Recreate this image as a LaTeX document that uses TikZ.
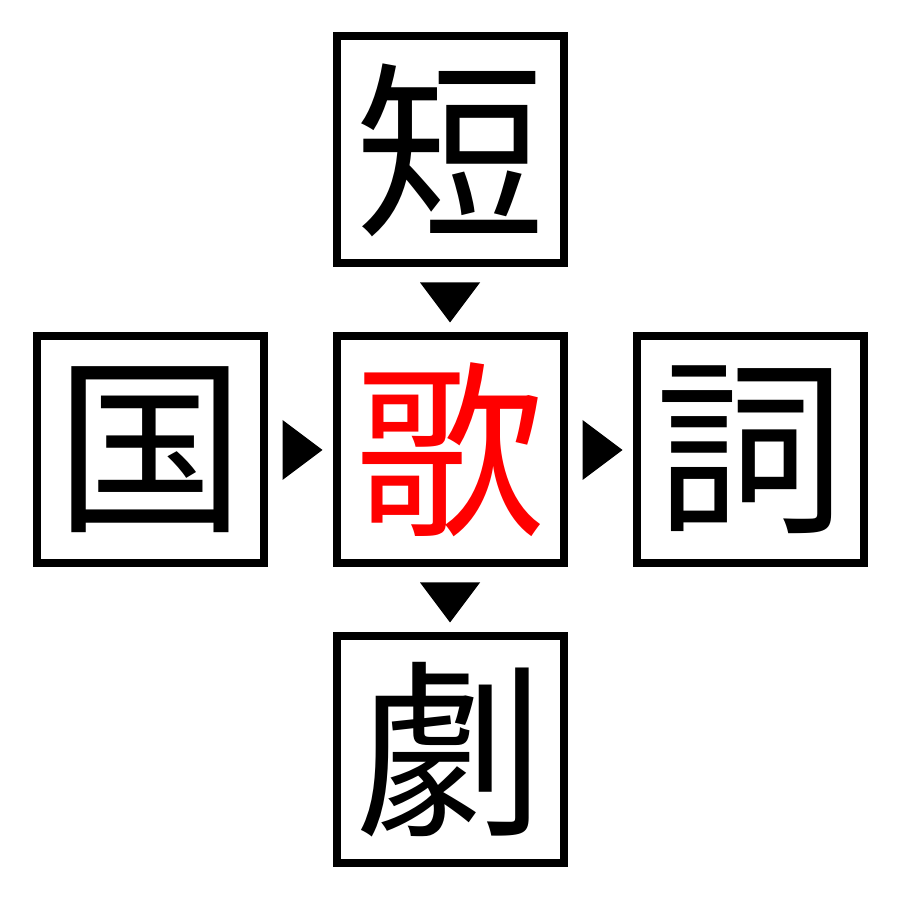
\documentclass[tikz,border=0pt]{standalone}
\usepackage{fontspec}
\newfontfamily\jp{Noto Sans CJK JP}
\usepackage{tikz}
\usetikzlibrary{positioning, calc}

\begin{document}
\begin{tikzpicture}[
	box/.style={draw, line width=0.8mm, minimum size=2.27cm, inner sep=0pt,
		anchor=center, font=\jp\fontsize{54}{54}\selectfont}]
	\useasboundingbox (0,0) rectangle (9,9);
	\node[box, text=red] (ka) at (4.5,4.5) {歌};
	\node[box, above=0.65cm of ka] (tan) {短};
	\node[box, below=0.65cm of ka] (geki) {劇};
	\node[box, left=0.65cm of ka] (koku) {国};
	\node[box, right=0.65cm of ka] (shi) {詞};
	
	% triangles between the boxes
	\fill ($(tan.south)+(-0.3,-0.15)$) -- ++(0.6,0) -- ($(tan.south)+(0,-0.55)$) -- cycle;
	\fill ($(ka.south)+(-0.3,-0.15)$) -- ++(0.6,0) -- ($(ka.south)+(0,-0.55)$) -- cycle;
	\fill ($(koku.east)+(0.15,-0.3)$) -- ++(0,0.6) -- ($(koku.east)+(0.55,0)$) -- cycle;
	\fill ($(ka.east)+(0.15,-0.3)$) -- ++(0,0.6) -- ($(ka.east)+(0.55,0)$) -- cycle;
\end{tikzpicture}
\end{document}
